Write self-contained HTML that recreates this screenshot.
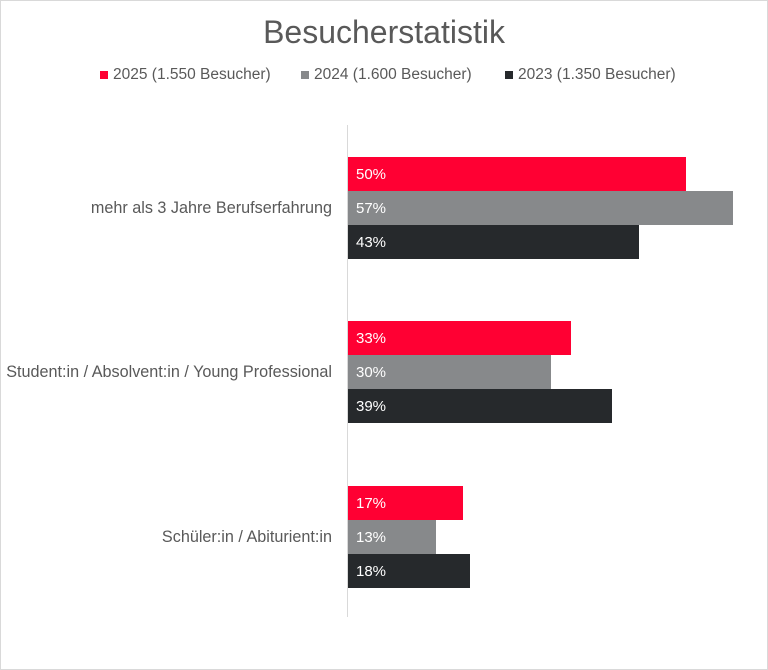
<!DOCTYPE html>
<html><head><meta charset="utf-8"><style>
body{margin:0;width:768px;height:670px;background:#fff;font-family:"Liberation Sans",sans-serif;overflow:hidden}
.frame{position:absolute;left:0;top:0;width:766px;height:668px;border:1px solid #d9d9d9}
.t{position:absolute;color:#595959;white-space:nowrap}
.bar{position:absolute;left:348px;height:34px}
.bar span{position:absolute;left:8px;top:9px;font-size:15px;color:#fff}
.r{background:#ff0033}.g{background:#87898b}.d{background:#26292c}
.sq{position:absolute;width:8px;height:8px;top:71px}
.cat{position:absolute;right:436px;font-size:16.2px;color:#595959;white-space:nowrap}
</style></head><body>
<div class="frame"></div>
<div class="t" style="left:0;width:768px;text-align:center;top:14px;font-size:32px">Besucherstatistik</div>
<div class="sq r" style="left:100px"></div><div class="t" style="left:113px;top:66px;font-size:15.5px">2025 (1.550 Besucher)</div>
<div class="sq g" style="left:301px"></div><div class="t" style="left:314px;top:66px;font-size:15.5px">2024 (1.600 Besucher)</div>
<div class="sq d" style="left:505px"></div><div class="t" style="left:518px;top:66px;font-size:15.5px">2023 (1.350 Besucher)</div>
<div style="position:absolute;left:347px;top:125px;width:1px;height:492px;background:#d9d9d9"></div>
<div class="cat" style="top:199px">mehr als 3 Jahre Berufserfahrung</div>
<div class="cat" style="top:363px">Student:in / Absolvent:in / Young Professional</div>
<div class="cat" style="top:528px">Schüler:in / Abiturient:in</div>
<div class="bar r" style="top:157px;width:338px"><span>50%</span></div>
<div class="bar g" style="top:191px;width:385px"><span>57%</span></div>
<div class="bar d" style="top:225px;width:291px"><span>43%</span></div>
<div class="bar r" style="top:321px;width:223px"><span>33%</span></div>
<div class="bar g" style="top:355px;width:203px"><span>30%</span></div>
<div class="bar d" style="top:389px;width:264px"><span>39%</span></div>
<div class="bar r" style="top:486px;width:115px"><span>17%</span></div>
<div class="bar g" style="top:520px;width:88px"><span>13%</span></div>
<div class="bar d" style="top:554px;width:122px"><span>18%</span></div>
</body></html>
